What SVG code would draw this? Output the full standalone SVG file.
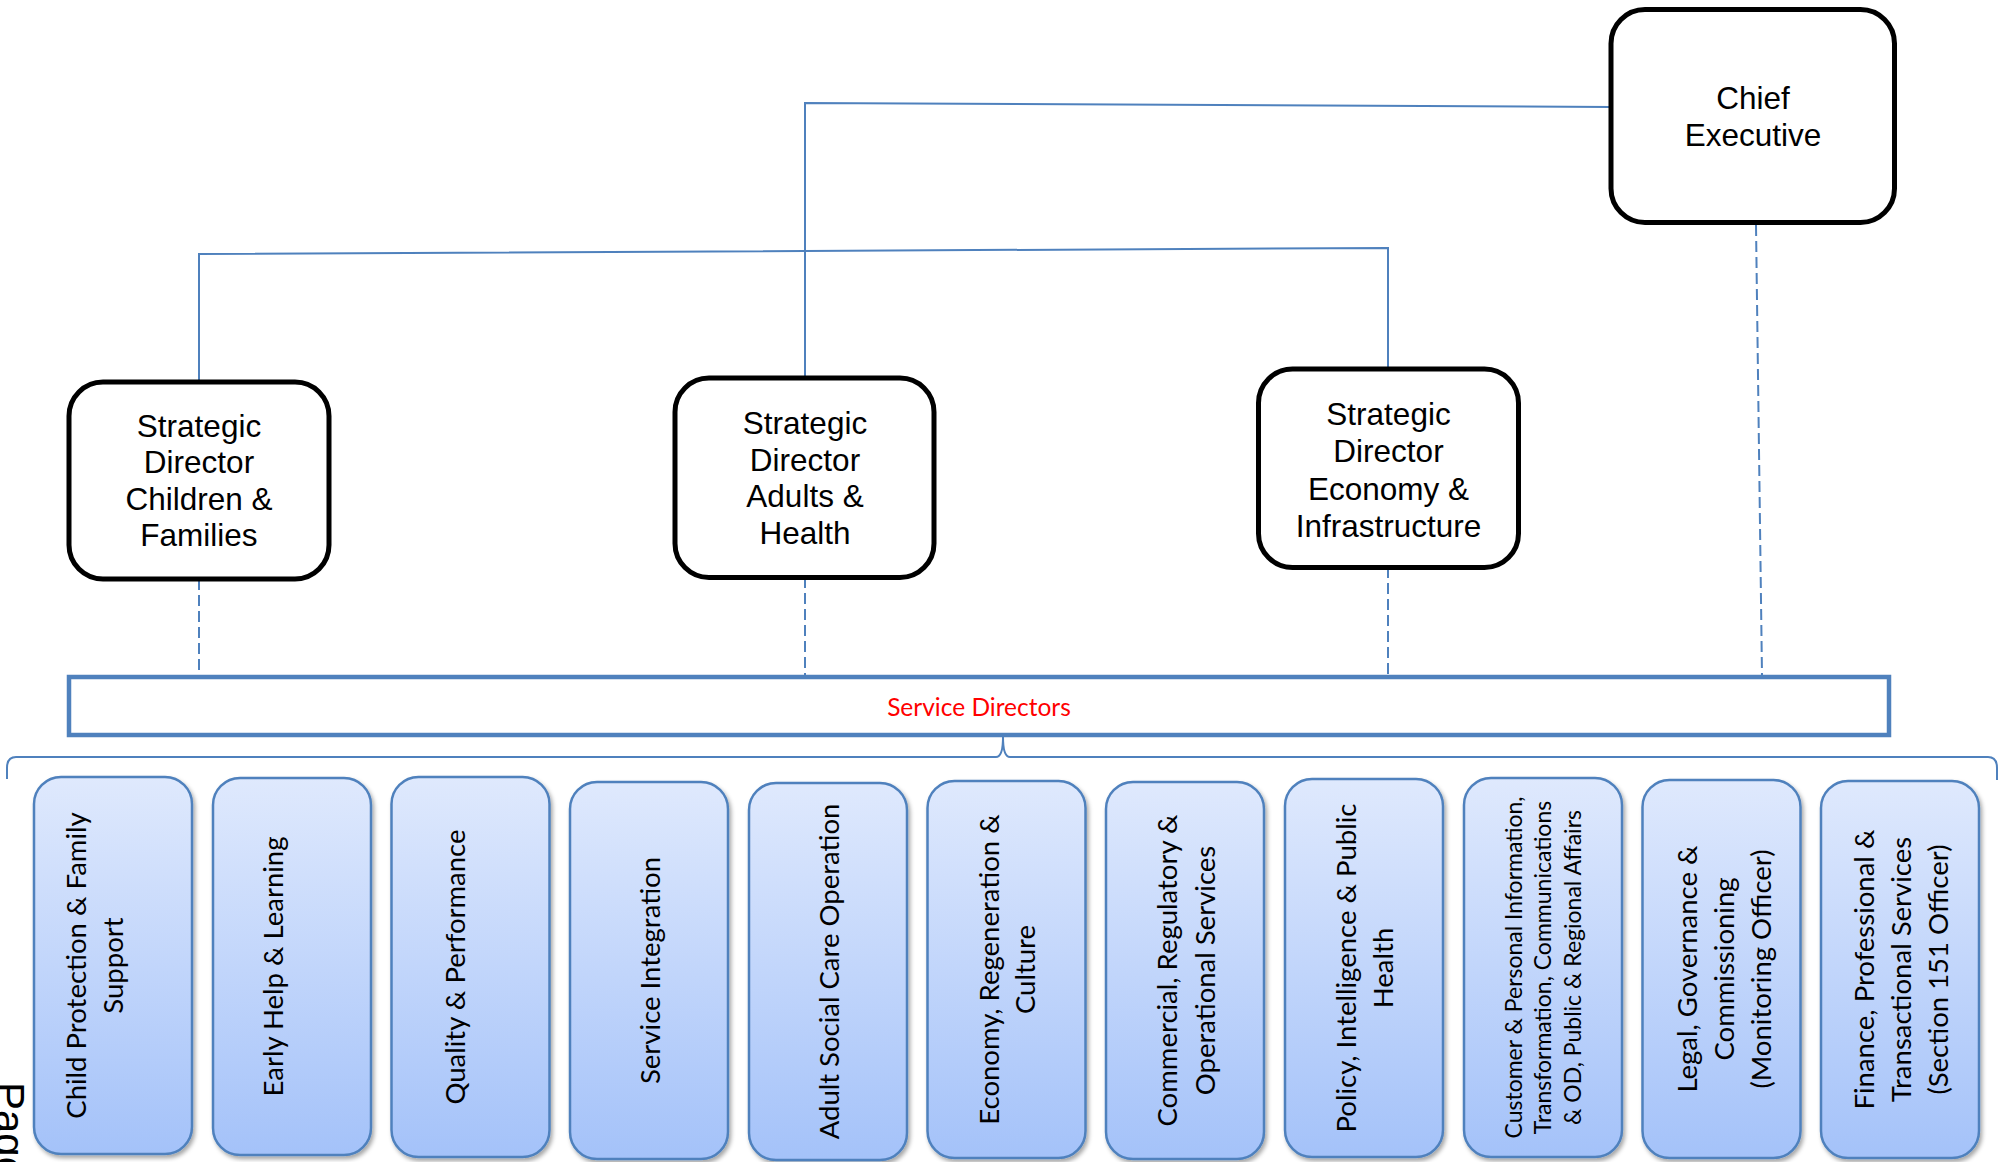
<svg xmlns="http://www.w3.org/2000/svg" width="2001" height="1162" viewBox="0 0 2001 1162">
<style>
.sd{fill:#fff;stroke:#000;stroke-width:5}
.sdt{font-family:"Liberation Sans",Arial,sans-serif;font-size:31.5px;fill:#000;text-anchor:middle}
.ln{fill:none;stroke:#4f81bd;stroke-width:2}
.dash{fill:none;stroke:#4f81bd;stroke-width:2;stroke-dasharray:11 5}
.bar{fill:#fff;stroke:#4f81bd;stroke-width:4.5}
.svc{fill:url(#g);stroke:#4f81bd;stroke-width:2.5;filter:url(#sh)}
.st{font-family:Lato,"Open Sans",sans-serif;font-size:27.5px;fill:#000;text-anchor:middle}
.sm{font-size:23px}
</style>
<defs>
<linearGradient id="g" x1="0" y1="0" x2="0" y2="1">
<stop offset="0" stop-color="#dfe9fd"/>
<stop offset="1" stop-color="#a4c2f9"/>
</linearGradient>
<filter id="sh" x="-10%" y="-10%" width="125%" height="125%">
<feDropShadow dx="2" dy="3" stdDeviation="2" flood-color="#000" flood-opacity="0.35"/>
</filter>
</defs>

<g id="connectors">
<path class="ln" d="M1611 107 L805 103 L805 378"/>
<path class="ln" d="M199 382 L199 254 L1388 248 L1388 369"/>
<path class="dash" d="M199 579 L199 675"/>
<path class="dash" d="M805 577 L805 675"/>
<path class="dash" d="M1388 567 L1388 675"/>
<path class="dash" d="M1756 225 L1762 675"/>
<path class="ln" d="M7 779 L7 768 Q7 757 16 757 L996 757 Q1003 757 1003 737 Q1003 757 1010 757 L1988 757 Q1997 757 1997 768 L1997 780"/>
</g>

<g id="chief-executive">
<rect class="sd" x="1611" y="9.5" width="283.5" height="213" rx="34"/>
<text class="sdt" x="1753" y="109">Chief</text>
<text class="sdt" x="1753" y="146">Executive</text>
</g>

<g id="sd-children">
<rect class="sd" x="69" y="382" width="260" height="197" rx="34"/>
<text class="sdt" x="199" y="436.5">Strategic</text>
<text class="sdt" x="199" y="473">Director</text>
<text class="sdt" x="199" y="509.5">Children &amp;</text>
<text class="sdt" x="199" y="546">Families</text>
</g>

<g id="sd-adults">
<rect class="sd" x="675" y="378" width="259" height="199.5" rx="34"/>
<text class="sdt" x="805" y="434">Strategic</text>
<text class="sdt" x="805" y="470.5">Director</text>
<text class="sdt" x="805" y="507">Adults &amp;</text>
<text class="sdt" x="805" y="543.5">Health</text>
</g>

<g id="sd-economy">
<rect class="sd" x="1258.5" y="369" width="260" height="198.5" rx="34"/>
<text class="sdt" x="1388.5" y="425">Strategic</text>
<text class="sdt" x="1388.5" y="462">Director</text>
<text class="sdt" x="1388.5" y="499.5">Economy &amp;</text>
<text class="sdt" x="1388.5" y="537">Infrastructure</text>
</g>

<g id="service-directors">
<rect class="bar" x="69" y="677" width="1820" height="58"/>
<text x="979" y="716" font-family="Lato,'Open Sans',sans-serif" font-size="24.5px" fill="#ff0000" text-anchor="middle">Service Directors</text>
</g>

<g id="svc1">
<rect class="svc" x="34" y="777" width="158" height="377" rx="27"/>
<text class="st" transform="translate(86,965.5) rotate(-90)">Child Protection &amp; Family</text>
<text class="st" transform="translate(123,965.5) rotate(-90)">Support</text>
</g>
<g id="svc2">
<rect class="svc" x="213" y="778" width="158" height="377" rx="27"/>
<text class="st" transform="translate(282.7,966.5) rotate(-90)">Early Help &amp; Learning</text>
</g>
<g id="svc3">
<rect class="svc" x="391.5" y="777" width="158" height="380" rx="27"/>
<text class="st" transform="translate(465,967) rotate(-90)">Quality &amp; Performance</text>
</g>
<g id="svc4">
<rect class="svc" x="570" y="782" width="158" height="377" rx="27"/>
<text class="st" transform="translate(660,970.5) rotate(-90)">Service Integration</text>
</g>
<g id="svc5">
<rect class="svc" x="749" y="783" width="158" height="377" rx="27"/>
<text class="st" transform="translate(839,971.5) rotate(-90)">Adult Social Care Operation</text>
</g>
<g id="svc6">
<rect class="svc" x="927.5" y="781" width="158" height="377" rx="27"/>
<text class="st" transform="translate(998.6,969.5) rotate(-90)">Economy, Regeneration &amp;</text>
<text class="st" transform="translate(1035,969.5) rotate(-90)">Culture</text>
</g>
<g id="svc7">
<rect class="svc" x="1106" y="782" width="158" height="377" rx="27"/>
<text class="st" transform="translate(1177,970.5) rotate(-90)">Commercial, Regulatory &amp;</text>
<text class="st" transform="translate(1214.6,970.5) rotate(-90)">Operational Services</text>
</g>
<g id="svc8">
<rect class="svc" x="1285" y="779" width="158" height="378" rx="27"/>
<text class="st" transform="translate(1355.7,968) rotate(-90)">Policy, Intelligence &amp; Public</text>
<text class="st" transform="translate(1393,968) rotate(-90)">Health</text>
</g>
<g id="svc9">
<rect class="svc" x="1464" y="778" width="158" height="379" rx="27"/>
<text class="st sm" transform="translate(1521.6,967.5) rotate(-90)">Customer &amp; Personal Information,</text>
<text class="st sm" transform="translate(1551,967.5) rotate(-90)">Transformation, Communications</text>
<text class="st sm" transform="translate(1581,967.5) rotate(-90)">&amp; OD, Public &amp; Regional Affairs</text>
</g>
<g id="svc10">
<rect class="svc" x="1642.5" y="780" width="158" height="378" rx="27"/>
<text class="st" transform="translate(1697,969) rotate(-90)">Legal, Governance &amp;</text>
<text class="st" transform="translate(1734,969) rotate(-90)">Commissioning</text>
<text class="st" transform="translate(1771,969) rotate(-90)">(Monitoring Officer)</text>
</g>
<g id="svc11">
<rect class="svc" x="1821" y="781" width="158" height="377" rx="27"/>
<text class="st" transform="translate(1873.6,969.5) rotate(-90)">Finance, Professional &amp;</text>
<text class="st" transform="translate(1910.5,969.5) rotate(-90)">Transactional Services</text>
<text class="st" transform="translate(1948,969.5) rotate(-90)">(Section 151 Officer)</text>
</g>

<text font-family="'Liberation Sans',Arial,sans-serif" font-size="42px" fill="#000" transform="translate(-5,1082) rotate(90)">Page</text>
</svg>
